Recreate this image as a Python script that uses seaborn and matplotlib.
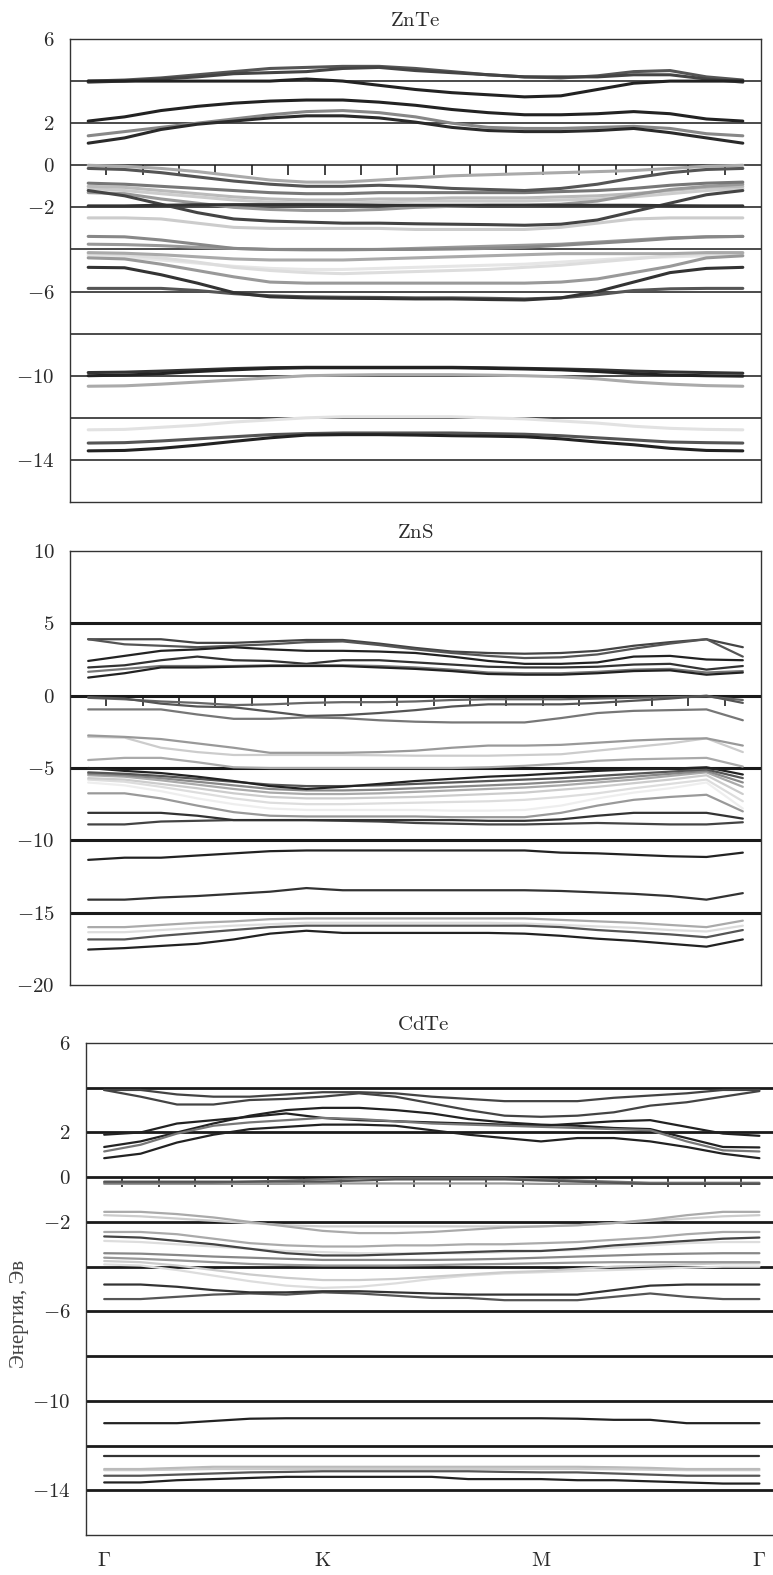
import numpy as np
import pandas as pd
import matplotlib
matplotlib.use("Agg")
import matplotlib.pyplot as plt
import seaborn as sns
from matplotlib.ticker import FixedLocator

# ---------------- data ----------------
K = list(range(19))
X_LABEL_POS = [0, 6, 12, 18]
X_LABELS = [r"$\Gamma$", r"$\mathrm{K}$", r"$\mathrm{M}$", r"$\Gamma$"]
TITLES = [r"$\mathrm{ZnTe}$", r"$\mathrm{ZnS}$", r"$\mathrm{CdTe}$"]
Y_LABEL = "Энергия, Эв"

ZNTE_YTICKS = [6, 2, 0, -2, -6, -10, -14]
ZNTE_GRID = [4, 2, 0, -2, -4, -6, -8, -10, -12, -14]
ZNS_YTICKS = [10, 5, 0, -5, -10, -15, -20]
ZNS_GRID = [5, 0, -5, -10, -15]
CDTE_YTICKS = [6, 2, 0, -2, -6, -10, -14]
CDTE_GRID = [4, 2, 0, -2, -4, -6, -8, -10, -12, -14]

ZNTE_BANDS = [
    [4.0, 4.05, 4.15, 4.3, 4.45, 4.6, 4.65, 4.7, 4.7, 4.6, 4.45, 4.3, 4.2, 4.15, 4.25, 4.45, 4.5, 4.2, 4.05],
    [3.95, 4.0, 4.1, 4.2, 4.35, 4.4, 4.45, 4.6, 4.65, 4.5, 4.4, 4.3, 4.2, 4.2, 4.2, 4.3, 4.3, 4.1, 3.95],
    [4.0, 4.0, 4.0, 4.0, 4.0, 4.0, 4.1, 4.0, 3.8, 3.6, 3.45, 3.35, 3.25, 3.3, 3.6, 3.9, 4.0, 4.0, 4.0],
    [2.1, 2.3, 2.6, 2.8, 2.95, 3.05, 3.1, 3.1, 3.0, 2.85, 2.65, 2.5, 2.4, 2.4, 2.45, 2.55, 2.45, 2.2, 2.1],
    [1.4, 1.6, 1.8, 2.0, 2.2, 2.4, 2.55, 2.6, 2.5, 2.3, 2.0, 1.8, 1.75, 1.75, 1.8, 1.85, 1.75, 1.5, 1.4],
    [1.05, 1.3, 1.7, 1.95, 2.1, 2.25, 2.35, 2.35, 2.25, 2.05, 1.8, 1.65, 1.6, 1.6, 1.65, 1.75, 1.55, 1.3, 1.05],
    [-4.3, -4.35, -4.5, -4.65, -4.8, -4.9, -4.95, -4.95, -4.9, -4.85, -4.8, -4.75, -4.7, -4.6, -4.5, -4.4, -4.35, -4.3, -4.3],
    [-4.2, -4.25, -4.4, -4.6, -4.85, -5.0, -5.1, -5.15, -5.1, -5.05, -5.0, -4.95, -4.85, -4.75, -4.6, -4.45, -4.3, -4.2, -4.2],
    [-2.5, -2.5, -2.55, -2.75, -2.95, -3.0, -3.0, -3.0, -3.0, -3.05, -3.05, -3.05, -3.05, -2.95, -2.75, -2.55, -2.5, -2.5, -2.5],
    [-1.1, -1.2, -1.35, -1.5, -1.65, -1.75, -1.8, -1.8, -1.75, -1.7, -1.7, -1.7, -1.7, -1.65, -1.6, -1.5, -1.35, -1.2, -1.1],
    [-1.0, -1.05, -1.2, -1.35, -1.5, -1.6, -1.65, -1.65, -1.6, -1.6, -1.55, -1.55, -1.55, -1.5, -1.45, -1.35, -1.2, -1.05, -1.0],
    [-12.57, -12.55, -12.45, -12.35, -12.2, -12.1, -12.0, -11.95, -11.95, -11.95, -11.95, -12.0, -12.05, -12.15, -12.25, -12.4, -12.5, -12.55, -12.57],
    [0.0, -0.05, -0.15, -0.3, -0.5, -0.7, -0.8, -0.8, -0.7, -0.6, -0.5, -0.45, -0.4, -0.35, -0.3, -0.25, -0.15, -0.05, 0.0],
    [-4.15, -4.18, -4.25, -4.35, -4.45, -4.5, -4.5, -4.5, -4.45, -4.4, -4.35, -4.3, -4.25, -4.2, -4.2, -4.2, -4.2, -4.15, -4.15],
    [-10.5, -10.48, -10.4, -10.3, -10.2, -10.1, -10.0, -9.97, -9.95, -9.95, -9.95, -9.97, -10.0, -10.05, -10.15, -10.3, -10.4, -10.47, -10.5],
    [-1.3, -1.35, -1.6, -1.8, -2.0, -2.1, -2.15, -2.15, -2.1, -2.0, -1.95, -1.9, -1.9, -1.85, -1.7, -1.4, -1.15, -1.0, -0.9],
    [-3.75, -3.77, -3.82, -3.9, -3.95, -4.0, -4.02, -4.02, -4.0, -3.95, -3.9, -3.85, -3.8, -3.75, -3.65, -3.55, -3.45, -3.4, -3.38],
    [-4.4, -4.45, -4.7, -5.0, -5.3, -5.55, -5.6, -5.6, -5.6, -5.6, -5.6, -5.6, -5.6, -5.55, -5.4, -5.1, -4.8, -4.4, -4.3],
    [-3.38, -3.4, -3.55, -3.75, -3.95, -4.0, -4.0, -4.0, -4.0, -4.0, -3.98, -3.95, -3.9, -3.8, -3.7, -3.6, -3.48, -3.4, -3.38],
    [-0.85, -0.9, -1.0, -1.1, -1.2, -1.3, -1.35, -1.35, -1.3, -1.3, -1.3, -1.3, -1.3, -1.25, -1.2, -1.1, -0.95, -0.85, -0.8],
    [-0.15, -0.2, -0.35, -0.55, -0.75, -0.9, -1.0, -1.0, -0.95, -1.0, -1.1, -1.15, -1.2, -1.1, -0.9, -0.6, -0.35, -0.2, -0.15],
    [-5.85, -5.85, -5.85, -5.95, -6.1, -6.2, -6.25, -6.27, -6.28, -6.3, -6.3, -6.32, -6.35, -6.3, -6.15, -5.95, -5.87, -5.85, -5.85],
    [-13.2, -13.18, -13.1, -13.0, -12.9, -12.8, -12.75, -12.72, -12.72, -12.72, -12.72, -12.75, -12.78, -12.85, -12.95, -13.05, -13.15, -13.18, -13.2],
    [-1.2, -1.45, -1.85, -2.25, -2.55, -2.65, -2.7, -2.75, -2.75, -2.78, -2.8, -2.82, -2.85, -2.8, -2.6, -2.2, -1.8, -1.4, -1.2],
    [-1.93, -1.93, -1.9, -1.88, -1.87, -1.87, -1.87, -1.88, -1.9, -1.9, -1.9, -1.9, -1.9, -1.9, -1.9, -1.9, -1.92, -1.93, -1.93],
    [-4.85, -4.87, -5.2, -5.6, -6.05, -6.25, -6.3, -6.32, -6.33, -6.35, -6.35, -6.38, -6.4, -6.3, -6.0, -5.55, -5.1, -4.9, -4.85],
    [-9.85, -9.83, -9.78, -9.72, -9.66, -9.62, -9.6, -9.6, -9.6, -9.6, -9.6, -9.62, -9.65, -9.68, -9.72, -9.78, -9.82, -9.85, -9.88],
    [-10.0, -9.97, -9.9, -9.8, -9.72, -9.65, -9.62, -9.62, -9.62, -9.62, -9.62, -9.65, -9.68, -9.72, -9.8, -9.9, -9.97, -10.0, -10.02],
    [-13.57, -13.55, -13.45, -13.3, -13.12, -12.95, -12.82, -12.8, -12.8, -12.82, -12.85, -12.87, -12.9, -13.0, -13.15, -13.28, -13.45, -13.55, -13.57],
]
ZNTE_SHADES = ["#555555", "#444444", "#222222", "#222222", "#888888", "#2a2a2a",
               "#e6e6e6", "#dddddd", "#cccccc", "#cccccc", "#bbbbbb", "#e2e2e2",
               "#aaaaaa", "#aaaaaa", "#aaaaaa", "#999999", "#999999", "#999999",
               "#888888", "#777777", "#555555", "#555555", "#555555", "#444444",
               "#333333", "#333333", "#333333", "#222222", "#222222"]

ZNS_BANDS = [
    [3.9, 3.9, 3.9, 3.65, 3.65, 3.75, 3.85, 3.85, 3.6, 3.3, 3.05, 2.95, 2.9, 2.95, 3.1, 3.45, 3.7, 3.9, 3.35],
    [3.9, 3.55, 3.45, 3.35, 3.45, 3.55, 3.7, 3.75, 3.5, 3.2, 2.95, 2.75, 2.6, 2.65, 2.85, 3.25, 3.6, 3.9, 2.7],
    [2.4, 2.75, 3.1, 3.2, 3.35, 3.2, 3.1, 3.1, 3.05, 2.95, 2.7, 2.4, 2.2, 2.2, 2.3, 2.7, 2.75, 2.5, 2.45],
    [1.95, 2.1, 2.45, 2.7, 2.45, 2.4, 2.2, 2.45, 2.45, 2.3, 2.15, 2.0, 1.95, 1.95, 2.0, 2.15, 2.2, 1.8, 2.05],
    [1.65, 1.85, 2.05, 2.05, 2.05, 2.1, 2.1, 2.1, 2.05, 1.95, 1.8, 1.6, 1.55, 1.55, 1.65, 1.8, 1.85, 1.6, 1.7],
    [1.25, 1.55, 1.95, 1.95, 2.0, 2.05, 2.05, 2.05, 1.95, 1.85, 1.7, 1.5, 1.45, 1.45, 1.55, 1.7, 1.75, 1.45, 1.6],
    [-6.0, -6.2, -6.6, -7.1, -7.5, -7.8, -7.9, -7.9, -7.9, -7.9, -7.95, -7.95, -7.9, -7.6, -7.1, -6.7, -6.4, -6.0, -7.8],
    [-5.8, -5.95, -6.3, -6.7, -7.1, -7.4, -7.5, -7.5, -7.45, -7.4, -7.35, -7.3, -7.2, -7.0, -6.75, -6.4, -6.1, -5.8, -7.3],
    [-16.35, -16.35, -16.2, -16.05, -15.9, -15.8, -15.7, -15.7, -15.7, -15.7, -15.7, -15.7, -15.75, -15.85, -15.95, -16.05, -16.2, -16.3, -15.9],
    [-2.85, -2.9, -3.6, -3.9, -4.1, -4.1, -4.1, -4.1, -4.12, -4.15, -4.15, -4.15, -4.1, -4.05, -3.8, -3.55, -3.3, -2.95, -3.9],
    [-5.7, -5.8, -6.1, -6.4, -6.75, -7.0, -7.1, -7.1, -7.05, -7.0, -6.9, -6.8, -6.7, -6.5, -6.3, -6.05, -5.8, -5.5, -6.8],
    [-5.5, -5.6, -5.85, -6.15, -6.45, -6.7, -6.8, -6.8, -6.75, -6.65, -6.55, -6.45, -6.35, -6.2, -6.0, -5.8, -5.55, -5.3, -6.3],
    [-4.45, -4.3, -4.3, -4.6, -4.95, -5.0, -5.0, -5.0, -5.0, -5.0, -5.0, -4.95, -4.85, -4.7, -4.5, -4.4, -4.35, -4.3, -4.9],
    [-16.0, -16.0, -15.85, -15.7, -15.6, -15.45, -15.4, -15.4, -15.4, -15.4, -15.4, -15.4, -15.4, -15.5, -15.6, -15.7, -15.85, -16.0, -15.55],
    [-2.75, -2.85, -3.0, -3.3, -3.6, -3.95, -3.95, -3.95, -3.9, -3.8, -3.6, -3.45, -3.45, -3.4, -3.25, -3.1, -3.0, -2.95, -3.45],
    [-6.75, -6.75, -7.1, -7.6, -8.05, -8.3, -8.35, -8.35, -8.35, -8.35, -8.4, -8.4, -8.4, -8.1, -7.6, -7.2, -7.0, -6.85, -8.0],
    [-5.4, -5.5, -5.7, -5.95, -6.2, -6.45, -6.55, -6.55, -6.5, -6.4, -6.3, -6.2, -6.1, -5.95, -5.8, -5.6, -5.4, -5.2, -6.0],
    [-0.95, -0.95, -0.95, -1.3, -1.6, -1.6, -1.5, -1.55, -1.7, -1.8, -1.85, -1.85, -1.85, -1.55, -1.2, -1.05, -1.0, -0.95, -1.7],
    [-0.15, -0.25, -0.4, -0.5, -0.65, -0.6, -0.5, -0.45, -0.45, -0.4, -0.3, -0.25, -0.25, -0.25, -0.2, -0.15, -0.1, -0.05, -0.3],
    [-5.3, -5.4, -5.55, -5.75, -5.95, -6.15, -6.25, -6.25, -6.2, -6.1, -6.0, -5.9, -5.8, -5.7, -5.55, -5.4, -5.25, -5.1, -5.7],
    [-0.1, -0.2, -0.55, -0.75, -0.8, -1.1, -1.4, -1.35, -1.2, -1.0, -0.75, -0.6, -0.6, -0.6, -0.5, -0.35, -0.2, 0.0, -0.5],
    [-16.85, -16.85, -16.6, -16.4, -16.2, -16.0, -15.9, -15.9, -15.9, -15.9, -15.9, -15.9, -15.9, -16.0, -16.2, -16.35, -16.5, -16.7, -16.2],
    [-8.9, -8.9, -8.7, -8.65, -8.6, -8.6, -8.6, -8.65, -8.7, -8.8, -8.85, -8.9, -8.9, -8.85, -8.8, -8.85, -8.9, -8.9, -8.75],
    [-8.1, -8.1, -8.1, -8.3, -8.6, -8.6, -8.6, -8.6, -8.6, -8.6, -8.6, -8.65, -8.65, -8.55, -8.3, -8.1, -8.1, -8.1, -8.5],
    [-14.1, -14.1, -13.95, -13.85, -13.7, -13.55, -13.3, -13.45, -13.45, -13.45, -13.45, -13.45, -13.45, -13.5, -13.6, -13.7, -13.85, -14.1, -13.65],
    [-5.0, -5.2, -5.35, -5.6, -5.9, -6.25, -6.45, -6.3, -6.1, -5.9, -5.75, -5.6, -5.5, -5.35, -5.2, -5.1, -5.05, -4.95, -5.45],
    [-11.35, -11.2, -11.2, -11.05, -10.9, -10.75, -10.7, -10.7, -10.7, -10.7, -10.7, -10.7, -10.7, -10.85, -10.9, -11.0, -11.1, -11.15, -10.85],
    [-17.55, -17.45, -17.3, -17.15, -16.85, -16.45, -16.25, -16.4, -16.4, -16.4, -16.4, -16.4, -16.45, -16.6, -16.8, -16.95, -17.15, -17.35, -16.85],
]
ZNS_SHADES = ["#444444", "#555555", "#222222", "#333333", "#777777", "#222222",
              "#eeeeee", "#dddddd", "#dddddd", "#cccccc", "#cccccc", "#aaaaaa",
              "#aaaaaa", "#aaaaaa", "#999999", "#999999", "#888888", "#777777",
              "#666666", "#555555", "#555555", "#555555", "#444444", "#333333",
              "#333333", "#222222", "#222222", "#222222"]

CDTE_BANDS = [
    [3.9, 3.9, 3.7, 3.6, 3.6, 3.7, 3.8, 3.8, 3.75, 3.6, 3.5, 3.4, 3.4, 3.4, 3.55, 3.65, 3.75, 3.9, 3.9],
    [3.9, 3.6, 3.25, 3.25, 3.45, 3.5, 3.6, 3.75, 3.6, 3.3, 3.0, 2.75, 2.7, 2.75, 2.9, 3.2, 3.35, 3.6, 3.85],
    [1.9, 2.0, 2.4, 2.55, 2.7, 2.85, 2.65, 2.55, 2.5, 2.45, 2.4, 2.35, 2.3, 2.4, 2.5, 2.55, 2.25, 1.95, 1.85],
    [1.35, 1.6, 2.0, 2.4, 2.75, 3.0, 3.1, 3.1, 3.0, 2.85, 2.6, 2.45, 2.35, 2.3, 2.2, 2.15, 1.75, 1.35, 1.33],
    [1.15, 1.45, 1.95, 2.3, 2.45, 2.55, 2.65, 2.6, 2.5, 2.4, 2.35, 2.3, 2.25, 2.2, 2.15, 2.1, 1.6, 1.2, 1.15],
    [0.85, 1.05, 1.55, 1.9, 2.15, 2.25, 2.35, 2.35, 2.3, 2.1, 1.9, 1.75, 1.6, 1.75, 1.75, 1.6, 1.35, 1.05, 0.85],
    [-3.9, -3.95, -4.15, -4.4, -4.65, -4.85, -4.95, -4.9, -4.75, -4.55, -4.4, -4.3, -4.25, -4.2, -4.15, -4.1, -4.05, -4.0, -4.0],
    [-2.85, -2.9, -3.0, -3.1, -3.2, -3.3, -3.35, -3.4, -3.4, -3.4, -3.4, -3.35, -3.3, -3.25, -3.15, -3.05, -2.95, -2.9, -2.9],
    [-3.75, -3.8, -3.95, -4.15, -4.35, -4.5, -4.6, -4.6, -4.55, -4.45, -4.35, -4.25, -4.2, -4.1, -4.0, -3.95, -3.9, -3.85, -3.85],
    [-1.7, -1.75, -1.85, -1.95, -2.05, -2.15, -2.2, -2.2, -2.2, -2.2, -2.2, -2.2, -2.2, -2.15, -2.05, -1.95, -1.85, -1.75, -1.7],
    [-13.1, -13.1, -13.08, -13.05, -13.05, -13.05, -13.05, -13.05, -13.05, -13.05, -13.05, -13.05, -13.05, -13.05, -13.06, -13.08, -13.1, -13.1, -13.1],
    [-13.05, -13.05, -13.0, -12.95, -12.95, -12.95, -12.95, -12.95, -12.95, -12.95, -12.95, -12.95, -12.95, -12.95, -12.97, -13.0, -13.05, -13.05, -13.05],
    [-1.55, -1.55, -1.65, -1.8, -2.0, -2.2, -2.4, -2.5, -2.5, -2.45, -2.35, -2.25, -2.2, -2.15, -2.05, -1.9, -1.7, -1.55, -1.55],
    [-2.45, -2.45, -2.55, -2.75, -2.95, -3.05, -3.1, -3.1, -3.05, -3.05, -3.0, -3.0, -2.95, -2.9, -2.8, -2.7, -2.55, -2.45, -2.45],
    [-0.3, -0.3, -0.3, -0.3, -0.3, -0.3, -0.28, -0.28, -0.28, -0.28, -0.28, -0.28, -0.3, -0.3, -0.3, -0.3, -0.3, -0.3, -0.3],
    [-3.6, -3.65, -3.72, -3.8, -3.88, -3.92, -3.95, -3.95, -3.95, -3.93, -3.9, -3.88, -3.85, -3.82, -3.8, -3.8, -3.8, -3.8, -3.8],
    [-3.4, -3.42, -3.48, -3.55, -3.6, -3.65, -3.7, -3.7, -3.7, -3.7, -3.68, -3.65, -3.6, -3.55, -3.5, -3.45, -3.42, -3.4, -3.4],
    [-0.25, -0.25, -0.25, -0.25, -0.2, -0.15, -0.1, -0.05, -0.05, -0.05, -0.05, -0.05, -0.1, -0.15, -0.2, -0.25, -0.25, -0.25, -0.25],
    [-0.2, -0.2, -0.2, -0.2, -0.2, -0.2, -0.2, -0.15, -0.1, -0.1, -0.1, -0.1, -0.15, -0.2, -0.25, -0.3, -0.3, -0.3, -0.3],
    [-5.45, -5.45, -5.35, -5.25, -5.2, -5.25, -5.15, -5.2, -5.3, -5.4, -5.4, -5.5, -5.5, -5.5, -5.35, -5.2, -5.35, -5.45, -5.45],
    [-13.35, -13.35, -13.3, -13.25, -13.2, -13.18, -13.15, -13.15, -13.15, -13.15, -13.15, -13.18, -13.2, -13.2, -13.25, -13.3, -13.35, -13.35, -13.35],
    [-2.65, -2.7, -2.85, -3.0, -3.2, -3.4, -3.5, -3.5, -3.45, -3.4, -3.35, -3.3, -3.3, -3.2, -3.05, -2.95, -2.85, -2.75, -2.7],
    [-4.8, -4.8, -4.9, -5.05, -5.15, -5.15, -5.1, -5.1, -5.15, -5.2, -5.25, -5.25, -5.25, -5.25, -5.05, -4.85, -4.8, -4.8, -4.8],
    [-12.45, -12.45, -12.45, -12.45, -12.45, -12.45, -12.45, -12.45, -12.45, -12.45, -12.45, -12.45, -12.45, -12.45, -12.45, -12.45, -12.45, -12.45, -12.45],
    [-11.0, -11.0, -11.0, -10.9, -10.8, -10.78, -10.78, -10.78, -10.78, -10.78, -10.78, -10.78, -10.78, -10.8, -10.85, -10.85, -11.0, -11.0, -11.0],
    [-13.65, -13.65, -13.55, -13.5, -13.45, -13.4, -13.4, -13.4, -13.4, -13.4, -13.5, -13.5, -13.5, -13.55, -13.55, -13.6, -13.65, -13.7, -13.7],
]
CDTE_SHADES = ["#444444", "#444444", "#222222", "#222222", "#777777", "#222222",
               "#dddddd", "#dddddd", "#cccccc", "#cccccc", "#cccccc", "#bbbbbb",
               "#aaaaaa", "#aaaaaa", "#999999", "#999999", "#888888", "#777777",
               "#555555", "#555555", "#555555", "#444444", "#333333", "#333333",
               "#222222", "#222222"]

# ---------------- style ----------------
sns.set_theme(style="white")
plt.rcParams["font.family"] = ["Liberation Serif", "DejaVu Serif"]
plt.rcParams["mathtext.fontset"] = "cm"

TXT = "#2a2a2a"


def draw_panel(ax, bands, shades, lw, ylim, yticks, grid, grid_lw, title, title_x=0.5):
    names = [f"b{i:02d}" for i in range(len(bands))]
    df = pd.DataFrame({
        "k": [k for _ in bands for k in K],
        "E": [v for vals in bands for v in vals],
        "band": [n for n, vals in zip(names, bands) for _ in vals],
    })
    sns.lineplot(data=df, x="k", y="E", hue="band", hue_order=names,
                 palette=dict(zip(names, shades)), linewidth=lw,
                 legend=False, estimator=None, sort=False, ax=ax)
    ax.set_xlim(K[0] - 0.5, K[-1] + 0.5)
    ax.set_ylim(*ylim)
    ax.set_xlabel("")
    ax.set_ylabel("")
    ax.set_yticks(yticks, labels=[f"${v}$" for v in yticks])
    ax.yaxis.set_minor_locator(FixedLocator(grid))
    ax.yaxis.remove_overlapping_locs = False
    ax.grid(False)
    ax.yaxis.grid(True, which="minor", color="#1a1a1a", linewidth=grid_lw)
    ax.tick_params(axis="y", which="both", length=0, labelsize=15, pad=11,
                   labelcolor=TXT)
    ax.set_xticks([])
    for sp in ax.spines.values():
        sp.set_color("#333333")
        sp.set_linewidth(1.0)
    ax.set_title(title, fontsize=15, pad=9, color=TXT, x=title_x)
    # category-boundary ticks on the zero line
    frac0 = (0 - ylim[0]) / (ylim[1] - ylim[0])
    sec = ax.secondary_xaxis(frac0)
    sec.set_alignment("bottom")
    sec.set_xticks([k + 0.5 for k in K[:-1]])
    sec.tick_params(axis="x", direction="out", length=7, width=1.2,
                    color="#222222", labelbottom=False, labeltop=False)
    for sp in sec.spines.values():
        sp.set_visible(False)
    return ax


fig = plt.figure(figsize=(7.73, 15.75), dpi=100)
ax1 = fig.add_axes([70 / 773, 1 - 502 / 1575, 691 / 773, 463 / 1575])
ax2 = fig.add_axes([70 / 773, 1 - 985 / 1575, 691 / 773, 434 / 1575])
ax3 = fig.add_axes([86 / 773, 1 - 1535 / 1575, 691.6 / 773, 492 / 1575])

draw_panel(ax1, ZNTE_BANDS, ZNTE_SHADES, 2.2, (-16, 6), ZNTE_YTICKS, ZNTE_GRID, 1.1, TITLES[0])
draw_panel(ax2, ZNS_BANDS, ZNS_SHADES, 1.6, (-20, 10), ZNS_YTICKS, ZNS_GRID, 2.2, TITLES[1])
draw_panel(ax3, CDTE_BANDS, CDTE_SHADES, 1.6, (-16, 6), CDTE_YTICKS, CDTE_GRID, 2.0, TITLES[2],
           title_x=0.487)

ax3.set_xticks(X_LABEL_POS, labels=X_LABELS)
ax3.tick_params(axis="x", length=0, labelsize=15, pad=12, labelcolor=TXT)
ax3.set_ylabel(Y_LABEL, fontsize=15, color="#444444")
ax3.yaxis.set_label_coords(-0.082, 0.45)

fig.savefig("out.png", dpi=100)
